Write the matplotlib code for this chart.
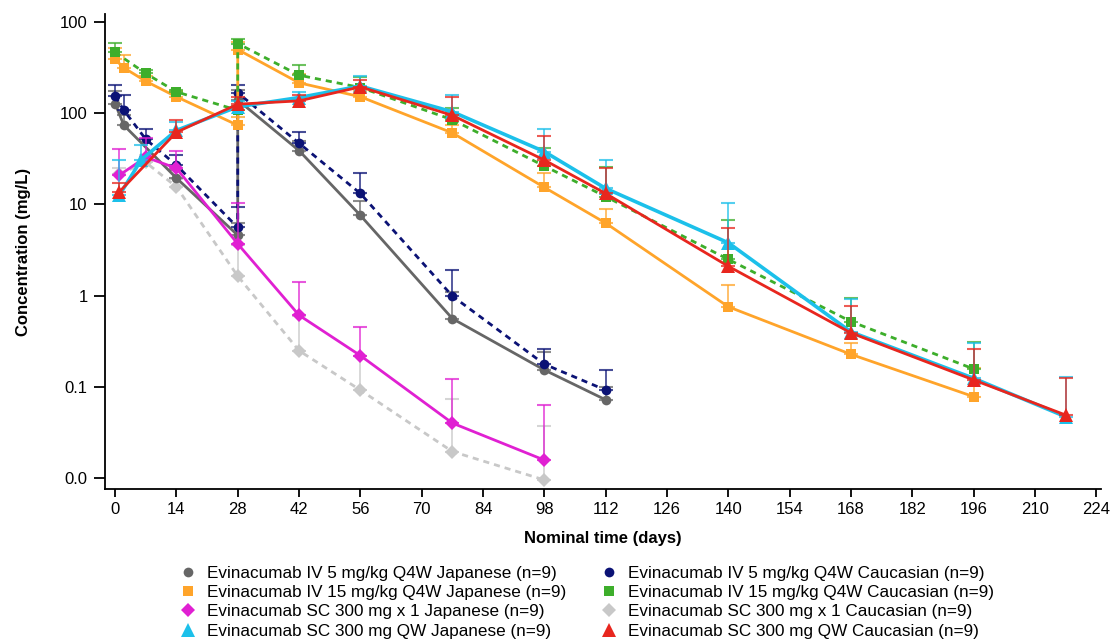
import numpy as np
import matplotlib
matplotlib.use("Agg")
import matplotlib.pyplot as plt
from matplotlib.lines import Line2D
from matplotlib.ticker import FixedLocator, FixedFormatter, NullLocator

plt.rcParams['font.family'] = ['Liberation Sans', 'DejaVu Sans']

# 读图估计的数据 (mg/L), up = 误差棒上端
t_iv5_jp = [0, 2, 14, 28, 28, 42, 56, 77, 98, 112]
v_iv5_jp = [128, 74, 19.5, 4.6, 140, 39, 7.6, 0.56, 0.153, 0.072]
u_iv5_jp = [175, 95, 24, 6.3, 180, 50, 11, 1.1, 0.24, 0.1]

t_iv5_ca = [0, 2, 7, 14, 28, 28, 42, 56, 77, 98, 112]
v_iv5_ca = [155, 108, 52, 27, 5.6, 168, 47, 13.2, 0.99, 0.177, 0.092]
u_iv5_ca = [204, 158, 68, 35, 9.3, 204, 63, 22, 1.93, 0.26, 0.153]

t_iv15_jp = [0, 2, 7, 14, 28, 28, 42, 56, 77, 98, 112, 140, 168, 196]
v_iv15_jp = [390, 316, 225, 152, 74, 501, 216, 152, 61, 15.4, 6.25, 0.755, 0.227, 0.078]
u_iv15_jp = [515, 435, 260, 175, 91, 610, 270, 175, 75, 22, 9, 1.31, 0.3, 0.16]

t_iv15_ca = [0, 7, 14, 28, 28, 42, 56, 77, 98, 112, 140, 168, 196]
v_iv15_ca = [466, 274, 172, 108, 583, 262, 192, 85, 26.4, 12.2, 2.5, 0.52, 0.157]
u_iv15_ca = [584, 298, 180, 120, 662, 337, 251, 113, 42, 26, 6.8, 0.95, 0.31]

t_sc1_jp = [1, 7, 14, 28, 42, 56, 77, 98]
v_sc1_jp = [21, 33, 25, 3.7, 0.61, 0.22, 0.040, 0.0157]
u_sc1_jp = [41, 53, 39, 10.3, 1.4, 0.45, 0.122, 0.063]

t_sc1_ca = [1, 7, 14, 28, 42, 56, 77, 98]
v_sc1_ca = [21.5, 29, 15.6, 1.64, 0.249, 0.092, 0.0195, 0.0095]
u_sc1_ca = [25, 35, 19, 3.6, 0.6, 0.22, 0.073, 0.037]

t_qw_jp = [1, 6, 14, 28, 42, 56, 77, 98, 112, 140, 168, 196, 217]
v_qw_jp = [12.7, 31, 65, 118, 149, 199, 104, 38, 15, 3.8, 0.40, 0.124, 0.047]
u_qw_jp = [30.5, 45, 80, 135, 170, 255, 158, 67, 31, 10.3, 0.91, 0.3, 0.127]

t_qw_ca = [1, 14, 28, 42, 56, 77, 98, 112, 140, 168, 196, 217]
v_qw_ca = [13.8, 62, 126, 137, 195, 95, 30.7, 13.2, 2.1, 0.39, 0.119, 0.049]
u_qw_ca = [17, 84, 150, 160, 230, 152, 56, 25, 5.5, 0.77, 0.26, 0.125]

labels = [
    "Evinacumab IV 5 mg/kg Q4W Japanese (n=9)",
    "Evinacumab IV 15 mg/kg Q4W Japanese (n=9)",
    "Evinacumab SC 300 mg x 1 Japanese (n=9)",
    "Evinacumab SC 300 mg QW Japanese (n=9)",
    "Evinacumab IV 5 mg/kg Q4W Caucasian (n=9)",
    "Evinacumab IV 15 mg/kg Q4W Caucasian (n=9)",
    "Evinacumab SC 300 mg x 1 Caucasian (n=9)",
    "Evinacumab SC 300 mg QW Caucasian (n=9)",
]

c_gray = '#666666'
c_navy = '#0b1275'
c_orange = '#ffa42a'
c_green = '#3dae2b'
c_mag = '#e020d2'
c_lgray = '#c8c8c8'
c_cyan = '#1cc0ea'
c_red = '#e8261e'

fig = plt.figure(figsize=(11.1, 6.44), dpi=100)
ax = fig.add_axes([0.0946, 0.2407, 0.897, 0.7373])


def draw(t, v, u, color, marker, ms, ls='-', lw=2.0, z=2):
    t = np.array(t, float)
    v = np.array(v, float)
    u = np.array(u, float)
    ax.errorbar(t, v, yerr=[np.zeros_like(v), u - v], fmt='none', ecolor=color,
                elinewidth=1.3, capsize=5, capthick=1.5, alpha=0.75, zorder=z)
    line, = ax.plot(t, v, color=color, marker=marker, ms=ms, lw=lw, zorder=z + 0.5,
                    markeredgewidth=0)
    if ls == '--':
        line.set_dashes((2.2, 1.8))
    return line


draw(t_sc1_ca, v_sc1_ca, u_sc1_ca, c_lgray, 'D', 7, ls='--', z=2)
draw(t_iv5_jp, v_iv5_jp, u_iv5_jp, c_gray, 'o', 7, z=3)
draw(t_iv5_ca, v_iv5_ca, u_iv5_ca, c_navy, 'o', 7, ls='--', z=4)
draw(t_iv15_jp, v_iv15_jp, u_iv15_jp, c_orange, 's', 7, z=5)
draw(t_iv15_ca, v_iv15_ca, u_iv15_ca, c_green, 's', 7, ls='--', z=6)
draw(t_sc1_jp, v_sc1_jp, u_sc1_jp, c_mag, 'D', 7, z=7)
draw(t_qw_jp, v_qw_jp, u_qw_jp, c_cyan, '^', 10, lw=2.6, z=8)
draw(t_qw_ca, v_qw_ca, u_qw_ca, c_red, '^', 10, z=9)

ax.set_yscale('log')
ax.set_ylim(0.00757, 1224)
ax.set_xlim(-2.3, 225)
ax.yaxis.set_major_locator(FixedLocator([0.01, 0.1, 1, 10, 100, 1000]))
ax.yaxis.set_major_formatter(FixedFormatter(["0.0", "0.1", "1", "10", "100", "100"]))
ax.yaxis.set_minor_locator(NullLocator())
ax.set_xticks(np.arange(0, 225, 14))
ax.tick_params(axis='both', labelsize=12, width=1.3, direction='out')
ax.tick_params(axis='y', length=8, pad=4.5)
ax.tick_params(axis='x', length=6, pad=3.5)
for s in ['top', 'right']:
    ax.spines[s].set_visible(False)
for s in ['left', 'bottom']:
    ax.spines[s].set_linewidth(1.3)

ax.set_xlabel("Nominal time (days)", fontsize=12, fontweight='bold', labelpad=10)
ax.set_ylabel("Concentration (mg/L)", fontsize=12, fontweight='bold', labelpad=21)

handles = [
    Line2D([], [], ls='none', marker='o', ms=7, color=c_gray, mew=0),
    Line2D([], [], ls='none', marker='s', ms=7, color=c_orange, mew=0),
    Line2D([], [], ls='none', marker='D', ms=7, color=c_mag, mew=0),
    Line2D([], [], ls='none', marker='^', ms=10, color=c_cyan, mew=0),
    Line2D([], [], ls='none', marker='o', ms=7, color=c_navy, mew=0),
    Line2D([], [], ls='none', marker='s', ms=7, color=c_green, mew=0),
    Line2D([], [], ls='none', marker='D', ms=7, color=c_lgray, mew=0),
    Line2D([], [], ls='none', marker='^', ms=10, color=c_red, mew=0),
]
fig.legend(handles, labels, ncol=2, loc='upper left', bbox_to_anchor=(0.154, 0.134),
           frameon=False, fontsize=12.3, handlelength=1.0, handletextpad=0.62,
           labelspacing=0.24, columnspacing=2.0, borderpad=0)

fig.savefig('out.png', dpi=100)
